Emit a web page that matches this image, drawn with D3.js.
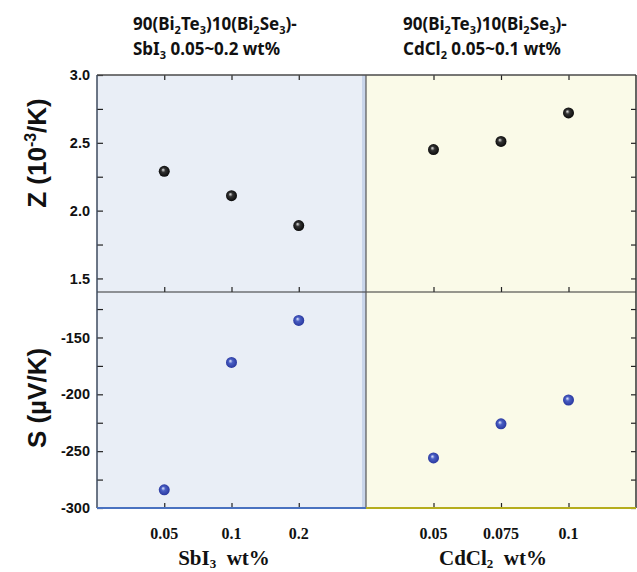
<!DOCTYPE html>
<html><head><meta charset="utf-8">
<script src="https://cdn.jsdelivr.net/npm/d3@7"></script>
<style>
body{margin:0;background:#fff;}
svg{display:block;}
</style></head>
<body>
<svg id="c" width="637" height="572"></svg>
<script>
// ---- data ----
const sbi3Cats = ["0.05", "0.1", "0.2"];
const cdcl2Cats = ["0.05", "0.075", "0.1"];
const zSbI3 = [2.29, 2.11, 1.89];
const zCdCl2 = [2.45, 2.51, 2.72];
const sSbI3 = [-284, -172, -135];
const sCdCl2 = [-256, -226, -205];
const zTicks = [1.5, 2.0, 2.5, 3.0];
const zMinor = [1.5, 1.75, 2.0, 2.25, 2.5, 2.75, 3.0];
const sTicks = [-300, -250, -200, -150];
const sMinor = [-300, -275, -250, -225, -200, -175, -150, -125];

const svg = d3.select("#c");
const L = {x0: 97, x1: 366}, R = {x0: 366, x1: 636};
const yTop = 75, yMid = 292, yBot = 508;

const xL = d3.scalePoint().domain(sbi3Cats).range([L.x0, L.x1]).padding(1);
const xR = d3.scalePoint().domain(cdcl2Cats).range([R.x0, R.x1]).padding(1);
const yZ = d3.scaleLinear().domain([1.4, 3.0]).range([yMid, yTop]);
const yS = d3.scaleLinear().domain([-300, -110]).range([yBot, yMid]);

// gradients
const defs = svg.append("defs");
function ball(id, c0, c1, c2) {
  const g = defs.append("radialGradient").attr("id", id)
    .attr("cx", "50%").attr("cy", "50%").attr("r", "55%")
    .attr("fx", "38%").attr("fy", "35%");
  g.append("stop").attr("offset", "0%").attr("stop-color", c0);
  g.append("stop").attr("offset", "35%").attr("stop-color", c1);
  g.append("stop").attr("offset", "100%").attr("stop-color", c2);
}
ball("gBlack", "#e8e8e8", "#333", "#050505");
ball("gBlue", "#e6ecff", "#4a5fc4", "#25339a");

// backgrounds
svg.append("rect").attr("x", L.x0).attr("y", yTop).attr("width", L.x1 - L.x0).attr("height", yBot - yTop).attr("fill", "#e9eef6");
svg.append("rect").attr("x", R.x0).attr("y", yTop).attr("width", R.x1 - R.x0).attr("height", yBot - yTop).attr("fill", "#fafae8");
svg.append("rect").attr("x", L.x1 - 4).attr("y", yTop).attr("width", 4).attr("height", yBot - yTop).attr("fill", "#c9d5ea");

// axes
function axisStyle(g) {
  g.select(".domain").remove();
  g.selectAll("line").attr("stroke", "#222").attr("stroke-width", 1.2);
  g.selectAll("text").attr("font-family", "Arial, 'Liberation Sans', sans-serif")
    .attr("font-weight", "bold").attr("font-size", 14.5).attr("fill", "#111");
}
svg.append("g").attr("transform", `translate(${L.x0},0)`)
  .call(d3.axisLeft(yZ).tickValues(zMinor).tickSize(-6).tickPadding(7)
    .tickFormat(d => zTicks.includes(d) ? d3.format(".1f")(d) : ""))
  .call(axisStyle);
svg.append("g").attr("transform", `translate(${L.x0},0)`)
  .call(d3.axisLeft(yS).tickValues(sMinor).tickSize(-6).tickPadding(7)
    .tickFormat(d => sTicks.includes(d) ? d : ""))
  .call(axisStyle);
svg.append("g").attr("transform", `translate(${R.x1},0)`)
  .call(d3.axisRight(yZ).tickValues(zMinor.filter(d => d < 3)).tickSize(-5).tickFormat(""))
  .call(axisStyle);
svg.append("g").attr("transform", `translate(${R.x1},0)`)
  .call(d3.axisRight(yS).tickValues(sMinor).tickSize(-5).tickFormat(""))
  .call(axisStyle);
[xL, xR].forEach(x => {
  svg.append("g").attr("transform", `translate(0,${yTop})`)
    .call(d3.axisTop(x).tickSize(-5).tickFormat("")).call(axisStyle);
  svg.append("g").attr("transform", `translate(0,${yMid})`)
    .call(d3.axisBottom(x).tickSize(-5).tickFormat("")).call(axisStyle);
  svg.append("g").attr("transform", `translate(0,${yBot})`)
    .call(d3.axisBottom(x).tickSize(-5).tickFormat("")).call(axisStyle);
});
[[xL, sbi3Cats], [xR, cdcl2Cats]].forEach(([x, cats]) => {
  svg.append("g").selectAll("text").data(cats).join("text")
    .attr("x", d => x(d)).attr("y", 539).attr("text-anchor", "middle")
    .attr("font-family", "'Liberation Serif', 'Times New Roman', serif")
    .attr("font-weight", "bold").attr("font-size", 16).attr("fill", "#111")
    .text(d => d);
});

// borders
const line = (x1, y1, x2, y2, c, w) => svg.append("line").attr("x1", x1).attr("y1", y1).attr("x2", x2).attr("y2", y2)
  .attr("stroke", c).attr("stroke-width", w);
line(L.x0, yTop, R.x1, yTop, "#4a4a4a", 1.5);
line(L.x0, yMid, R.x1, yMid, "#333", 1.2);
line(L.x0, yTop, L.x0, yBot, "#3d4a5e", 1.5);
line(L.x1, yTop, L.x1, yBot, "#555", 1.2);
line(R.x1, yTop, R.x1, yBot, "#333", 1.5);
line(L.x0, yBot, L.x1, yBot, "#4a72c0", 2);
line(R.x0, yBot, R.x1, yBot, "#b5ad1e", 2);

// points
function pts(x, y, cats, vals, grad) {
  svg.append("g").selectAll("circle").data(vals).join("circle")
    .attr("cx", (d, i) => x(cats[i])).attr("cy", d => y(d)).attr("r", 5.5)
    .attr("fill", `url(#${grad})`);
}
pts(xL, yZ, sbi3Cats, zSbI3, "gBlack");
pts(xR, yZ, cdcl2Cats, zCdCl2, "gBlack");
pts(xL, yS, sbi3Cats, sSbI3, "gBlue");
pts(xR, yS, cdcl2Cats, sCdCl2, "gBlue");

// y axis titles
const yt = (cy, build) => {
  const t = svg.append("text").attr("transform", `translate(46,${cy}) rotate(-90)`)
    .attr("text-anchor", "middle").attr("font-family", "Arial, 'Liberation Sans', sans-serif")
    .attr("font-weight", "bold").attr("font-size", 26).attr("fill", "#111");
  build(t);
};
yt(153, t => {
  t.append("tspan").text("Z (10");
  t.append("tspan").attr("font-size", 16).attr("dy", -10).text("-3");
  t.append("tspan").attr("dy", 10).text("/K)");
});
yt(398, t => t.text("S (µV/K)"));

// x axis titles
function xt(cx, main, sub, rest) {
  const t = svg.append("text").attr("x", cx).attr("y", 565).attr("text-anchor", "middle")
    .attr("font-family", "'Liberation Serif', 'Times New Roman', serif")
    .attr("font-weight", "bold").attr("font-size", 21).attr("fill", "#111");
  t.append("tspan").text(main);
  t.append("tspan").attr("font-size", 13).attr("dy", 3).text(sub);
  t.append("tspan").attr("dy", -3).text("\u00a0\u00a0" + rest);
}
xt(224, "SbI", "3", "wt%");
xt(493, "CdCl", "2", "wt%");

// titles
function title(x, lines) {
  lines.forEach((parts, li) => {
    const t = svg.append("text").attr("x", x).attr("y", 30 + li * 25)
      .attr("font-family", "'Noto Sans', 'Open Sans', sans-serif")
      .attr("font-weight", "bold").attr("font-size", 17).attr("fill", "#111");
    parts.forEach(p => {
      const s = t.append("tspan").text(p[0]);
      if (p[1] === "sub") s.attr("font-size", 11).attr("dy", 4);
      if (p[2]) s.attr("dy", -4);
    });
  });
}
const t1 = [["90(Bi"], ["2", "sub"], ["Te", "", 1], ["3", "sub"], [")10(Bi", "", 1], ["2", "sub"], ["Se", "", 1], ["3", "sub"], [")-", "", 1]];
title(133, [t1, [["SbI"], ["3", "sub"], [" 0.05~0.2 wt%", "", 1]]]);
title(403, [t1, [["CdCl"], ["2", "sub"], [" 0.05~0.1 wt%", "", 1]]]);
</script>
</body></html>
